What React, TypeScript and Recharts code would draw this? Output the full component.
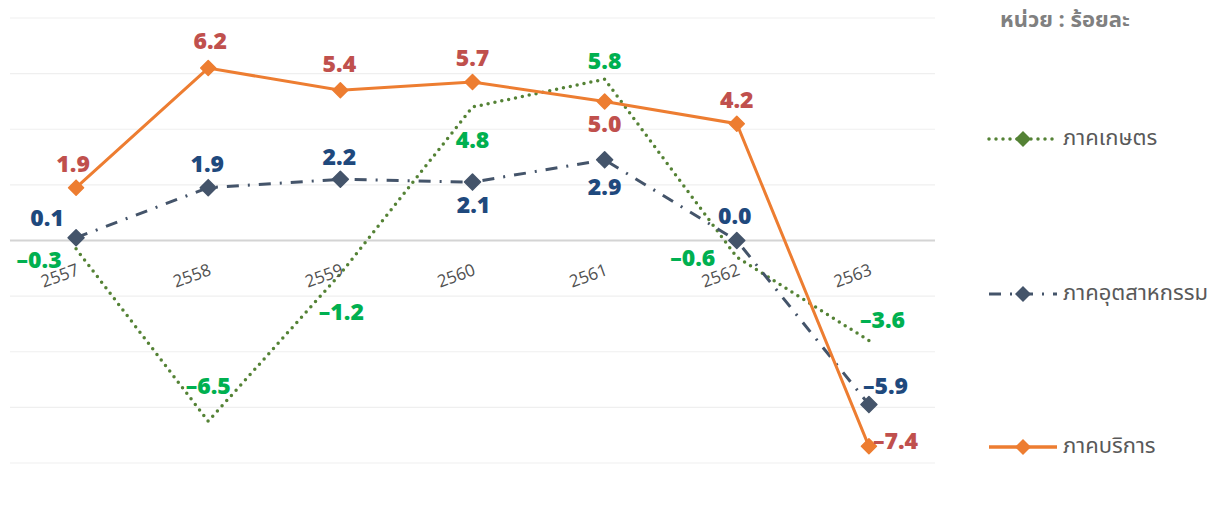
import { CartesianGrid, LabelList, Line, LineChart, ReferenceLine, XAxis, YAxis } from 'recharts'

const years = ['2557', '2558', '2559', '2560', '2561', '2562', '2563']
const agriculture = [-0.3, -6.5, -1.2, 4.8, 5.8, -0.6, -3.6]
const industry = [0.1, 1.9, 2.2, 2.1, 2.9, 0.0, -5.9]
const services = [1.9, 6.2, 5.4, 5.7, 5.0, 4.2, -7.4]
const yTicks = [-8, -6, -4, -2, 0, 2, 4, 6, 8]

const seriesNames = {
  agriculture: 'ภาคเกษตร',
  industry: 'ภาคอุตสาหกรรม',
  services: 'ภาคบริการ',
}
const unitText = 'หน่วย : ร้อยละ'

const data = years.map((year, i) => ({
  year,
  agriculture: agriculture[i],
  industry: industry[i],
  services: services[i],
}))

const WIDTH = 1212
const HEIGHT = 515
const CHART_WIDTH = 945
const X_AXIS_HEIGHT = 30
const MARGIN = { top: 18, right: 10, bottom: 22, left: 10 }
const ZERO_Y = MARGIN.top + (HEIGHT - MARGIN.top - MARGIN.bottom - X_AXIS_HEIGHT) / 2
const X_PAD = (CHART_WIDTH - MARGIN.left - MARGIN.right) / years.length / 2

const THAI_FONT = '"Noto Sans Thai", "Noto Sans", "DejaVu Sans", sans-serif'
const LABEL_FONT = '"Open Sans", Lato, sans-serif'

// label offsets (dx, dy, anchor) per point
type Place = [number, number, 'middle' | 'start' | 'end']
const servicesPlace: Place[] = [
  [-3, -25, 'middle'], [2, -28, 'middle'], [-1, -27, 'middle'], [0, -25, 'middle'],
  [0, 22, 'middle'], [0, -25, 'middle'], [4, -6, 'start'],
]
const industryPlace: Place[] = [
  [-29, -21, 'middle'], [-1, -25, 'middle'], [-1, -23, 'middle'], [1, 22, 'middle'],
  [0, 26, 'middle'], [-2, -26, 'middle'], [-6, -20, 'start'],
]
const agriculturePlace: Place[] = [
  [-37, 10, 'middle'], [0, -36, 'middle'], [1, 37, 'middle'], [0, 32, 'middle'],
  [0, -19, 'middle'], [-44, 0, 'middle'], [-9, -22, 'start'],
]

function makeLabel(places: Place[], color: string) {
  return (props: any) => {
    const { x, y, value, index } = props
    const [dx, dy, anchor] = places[index ?? 0] ?? [0, -20, 'middle']
    return (
      <text
        x={x + dx}
        y={y + dy}
        textAnchor={anchor}
        dominantBaseline="central"
        fill={color}
        fontFamily={LABEL_FONT}
        fontWeight={800}
        fontSize={23}
      >
        {Number(value).toFixed(1).replace('-', '–')}
      </text>
    )
  }
}

function diamond(color: string, size: number) {
  return (props: any) => {
    const { cx, cy, index } = props
    if (cx == null || cy == null) return <g key={index} />
    return (
      <path
        key={index}
        d={`M${cx},${cy - size} L${cx + size},${cy} L${cx},${cy + size} L${cx - size},${cy} Z`}
        fill={color}
        strokeLinejoin="round"
        stroke={color}
        strokeWidth={1.5}
      />
    )
  }
}

function YearTick(props: any) {
  const { x, payload } = props
  const tx = x + 4
  const ty = ZERO_Y + 34
  return (
    <text
      x={tx}
      y={ty}
      textAnchor="end"
      transform={`rotate(-20, ${tx}, ${ty})`}
      fill="#505050"
      fontFamily='"Open Sans", sans-serif'
      fontSize={17}
    >
      {payload.value}
    </text>
  )
}

function LegendSample({ color, dash, width }: { color: string; dash?: string; width: number }) {
  return (
    <svg width={76} height={20} style={{ display: 'block' }}>
      <line
        x1={4}
        y1={10}
        x2={72}
        y2={10}
        stroke={color}
        strokeWidth={width}
        strokeDasharray={dash}
        strokeLinecap={dash === '0 7' ? 'round' : 'butt'}
      />
      <path d="M38,2 L46,10 L38,18 L30,10 Z" fill={color} />
    </svg>
  )
}

function ChartLegend() {
  const items = [
    { name: seriesNames.agriculture, color: '#548235', dash: '0 7', width: 3.5, top: 122 },
    { name: seriesNames.industry, color: '#44546a', dash: '12 9 2 9', width: 3, top: 277 },
    { name: seriesNames.services, color: '#ed7d31', dash: undefined, width: 3.5, top: 430 },
  ]
  return (
    <div
      style={{
        position: 'absolute',
        left: 985,
        top: 0,
        width: 227,
        height: HEIGHT,
        fontFamily: THAI_FONT,
      }}
    >
      <div
        style={{
          position: 'absolute',
          left: 15,
          top: 4,
          fontSize: 22,
          fontWeight: 700,
          color: '#808080',
          whiteSpace: 'nowrap',
        }}
      >
        {unitText}
      </div>
      {items.map((item) => (
        <div
          key={item.name}
          style={{
            position: 'absolute',
            left: 0,
            top: item.top,
            display: 'flex',
            alignItems: 'center',
            whiteSpace: 'nowrap',
          }}
        >
          <LegendSample color={item.color} dash={item.dash} width={item.width} />
          <span style={{ fontSize: 22, color: '#595959', marginLeft: 2 }}>{item.name}</span>
        </div>
      ))}
    </div>
  )
}

export default function App() {
  return (
    <div style={{ position: 'absolute', left: 0, top: 0, width: WIDTH, height: HEIGHT, background: '#fff' }}>
      <LineChart width={CHART_WIDTH} height={HEIGHT} data={data} margin={MARGIN}>
        <CartesianGrid vertical={false} stroke="#efefef" strokeWidth={1.2} />
        <XAxis
          dataKey="year"
          axisLine={false}
          tickLine={false}
          tick={<YearTick />}
          interval={0}
          height={X_AXIS_HEIGHT}
          padding={{ left: X_PAD, right: X_PAD }}
        />
        <YAxis hide domain={[-8, 8]} ticks={yTicks} />
        <ReferenceLine y={0} stroke="#d4d4d4" strokeWidth={2} />
        <Line
          dataKey="agriculture"
          name={seriesNames.agriculture}
          stroke="#548235"
          strokeWidth={3.5}
          strokeDasharray="0 7"
          strokeLinecap="round"
          dot={false}
          activeDot={false}
          isAnimationActive={false}
        >
          <LabelList dataKey="agriculture" content={makeLabel(agriculturePlace, '#00b050')} />
        </Line>
        <Line
          dataKey="industry"
          name={seriesNames.industry}
          stroke="#44546a"
          strokeWidth={3}
          strokeDasharray="12 9 2 9"
          dot={diamond('#44546a', 8)}
          activeDot={false}
          isAnimationActive={false}
        >
          <LabelList dataKey="industry" content={makeLabel(industryPlace, '#1f497d')} />
        </Line>
        <Line
          dataKey="services"
          name={seriesNames.services}
          stroke="#ed7d31"
          strokeWidth={3}
          dot={diamond('#ed7d31', 7.5)}
          activeDot={false}
          isAnimationActive={false}
        >
          <LabelList dataKey="services" content={makeLabel(servicesPlace, '#c0504d')} />
        </Line>
      </LineChart>
      <ChartLegend />
    </div>
  )
}
